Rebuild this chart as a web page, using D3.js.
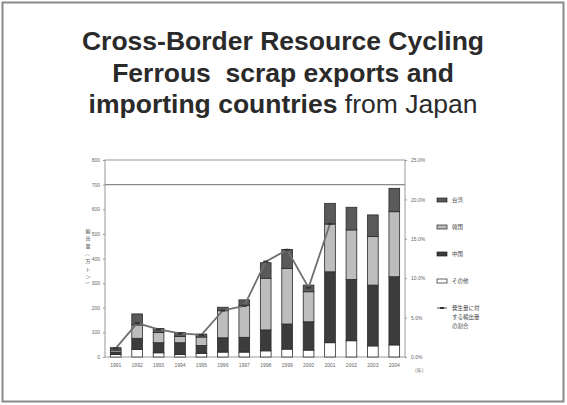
<!DOCTYPE html>
<html><head><meta charset="utf-8">
<script src="https://cdn.jsdelivr.net/npm/d3@7"></script>
<style>
html,body{margin:0;padding:0;background:#fff;}
svg{display:block;}
</style></head>
<body>
<svg id="c" width="567" height="405"></svg>
<script>
const years = ["1991","1992","1993","1994","1995","1996","1997","1998","1999","2000","2001","2002","2003","2004"];
const seriesNames = ["その他","中国","韓国","台湾"];
const other  = [10, 31, 17, 10, 15, 20, 20, 25, 32, 28, 58, 66, 45, 49];
const china  = [10, 45, 41, 48, 32, 58, 60, 85, 102, 115, 288, 249, 247, 277];
const korea  = [8, 54, 41, 25, 34, 110, 130, 210, 226, 122, 194, 201, 197, 264];
const taiwan = [10, 45, 17, 16, 12, 14, 22, 63, 77, 27, 84, 92, 88, 95];
const ratioYears = ["1991","1992","1993","1994","1995","1996","1997","1998","1999","2000","2001"];
const ratio = [1.1, 4.3, 3.5, 3.0, 2.8, 5.9, 6.5, 12.1, 13.6, 8.8, 16.9];
const leftTicks = [0,100,200,300,400,500,600,700,800];
const rightTicks = [0,5,10,15,20,25];
const lineLegend = ["発生量に対", "する輸出量", "の割合"];
const yLabel = "輸出量（万トン）";
const titleLines = [
  [{t:"Cross-Border Resource Cycling", b:true}],
  [{t:"Ferrous\u00a0 scrap exports and", b:true}],
  [{t:"importing countries", b:true},{t:" from Japan", b:false}]
];

const fills = {"その他":"#ffffff","中国":"#3c3c3c","韓国":"#bdbdbd","台湾":"#5a5a5a"};

const svg = d3.select("#c");
svg.append("rect").attr("x",2.5).attr("y",2.5).attr("width",561).attr("height",399)
  .attr("fill","#fff").attr("stroke","#8a8a8a").attr("stroke-width",2);

// title
const tt = svg.append("text").attr("text-anchor","middle")
  .attr("font-family","Arial, 'Liberation Sans', sans-serif").attr("font-size",26.5).attr("fill","#2a2a2a");
titleLines.forEach((ln,i)=>{
  const t = tt.append("tspan").attr("x",283).attr("y",50 + i*31.5);
  ln.forEach(p=>{
    t.append("tspan").attr("font-weight",p.b?"bold":"normal").text(p.t);
  });
});

const L=105, R=405, T=160, B=357;
const x = d3.scaleBand().domain(years).range([L,R]).paddingInner(0.5).paddingOuter(0.25);
const y = d3.scaleLinear().domain([0,800]).range([B,T]);
const y2 = d3.scaleLinear().domain([0,25]).range([B,T]);

// box and 700 line
svg.append("rect").attr("x",L).attr("y",T).attr("width",R-L).attr("height",B-T)
  .attr("fill","none").attr("stroke","#9a9a9a").attr("stroke-width",1);
svg.append("line").attr("x1",L).attr("x2",R).attr("y1",y(700)).attr("y2",y(700))
  .attr("stroke","#8a8a8a").attr("stroke-width",1.2);

// axes
const ax = svg.append("g").attr("transform",`translate(${L},0)`)
  .call(d3.axisLeft(y).tickValues(leftTicks).tickSize(2).tickPadding(3));
ax.select(".domain").remove();
ax.selectAll("line").attr("stroke","#999");
ax.selectAll("text").attr("font-size",5).attr("fill","#666").attr("font-family","Arial, sans-serif");

const ax2 = svg.append("g").attr("transform",`translate(${R},0)`)
  .call(d3.axisRight(y2).tickValues(rightTicks).tickSize(2).tickPadding(4).tickFormat(d=>d.toFixed(1)+"%"));
ax2.select(".domain").remove();
ax2.selectAll("line").attr("stroke","#999");
ax2.selectAll("text").attr("font-size",5).attr("fill","#666").attr("font-family","Arial, sans-serif");

const axb = svg.append("g").attr("transform",`translate(0,${B})`)
  .call(d3.axisBottom(x).tickSize(0).tickPadding(6));
axb.select(".domain").remove();
axb.selectAll("text").attr("font-size",5).attr("fill","#666").attr("font-family","Arial, sans-serif");

svg.append("text").attr("x",415).attr("y",372).attr("font-size",5).attr("fill","#666")
  .attr("font-family","'Noto Sans CJK JP', sans-serif").text("(年)");

// y label vertical (upright characters stacked)
const yl = svg.append("g").attr("font-size",5).attr("fill","#555")
  .attr("font-family","'Noto Sans CJK JP', sans-serif").attr("text-anchor","middle");
Array.from(yLabel).forEach((ch,i)=>{
  const isParen = ch==="（"||ch==="）";
  const cy = 231 + i*7.6;
  const t = yl.append("text").attr("x",88).attr("y",cy).attr("dy","0.35em").text(ch);
  if(isParen || ch==="ー") t.attr("transform",`rotate(90,88,${cy})`);
});

// stacked bars
const table = years.map((yr,i)=>({year:yr,"その他":other[i],"中国":china[i],"韓国":korea[i],"台湾":taiwan[i]}));
const stack = d3.stack().keys(seriesNames)(table);
svg.append("g").selectAll("g").data(stack).join("g")
  .attr("fill",d=>fills[d.key])
  .selectAll("rect").data(d=>d).join("rect")
  .attr("x",d=>x(d.data.year)).attr("width",x.bandwidth())
  .attr("y",d=>y(d[1])).attr("height",d=>y(d[0])-y(d[1]))
  .attr("stroke","#2a2a2a").attr("stroke-width",0.8);

// ratio line
const pts = ratioYears.map((yr,i)=>[x(yr)+x.bandwidth()/2, y2(ratio[i])]);
svg.append("path").attr("d",d3.line()(pts)).attr("fill","none")
  .attr("stroke","#6f6f6f").attr("stroke-width",1.8);
svg.append("g").selectAll("rect").data(pts).join("rect")
  .attr("x",d=>d[0]-2.5).attr("y",d=>d[1]-1).attr("width",5).attr("height",2)
  .attr("fill","#333");

// legend
const lg = svg.append("g").attr("font-family","'Noto Sans CJK JP', sans-serif").attr("font-size",5.5).attr("fill","#444");
const legItems = ["台湾","韓国","中国","その他"];
const legY = [200,227,254,281];
legItems.forEach((k,i)=>{
  lg.append("rect").attr("x",437).attr("y",legY[i]-2).attr("width",10).attr("height",4)
    .attr("fill",fills[k]).attr("stroke","#222").attr("stroke-width",0.7);
  lg.append("text").attr("x",452).attr("y",legY[i]+2).text(k);
});
lg.append("line").attr("x1",437).attr("x2",447).attr("y1",308).attr("y2",308).attr("stroke","#6f6f6f").attr("stroke-width",1.2);
lg.append("rect").attr("x",440).attr("y",307).attr("width",4).attr("height",2).attr("fill","#333");
lineLegend.forEach((s,i)=>{
  lg.append("text").attr("x",452).attr("y",310+i*9).text(s);
});
</script>
</body></html>
